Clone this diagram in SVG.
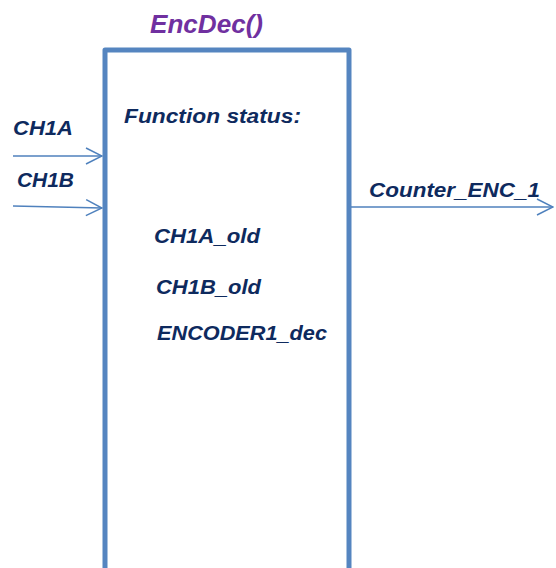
<svg xmlns="http://www.w3.org/2000/svg" width="556" height="568" viewBox="0 0 556 568">
<style>
.lbl{font-family:"Liberation Sans",Arial,sans-serif;font-weight:bold;font-style:italic;fill:#0E2A5E;font-size:21px}
.title{font-family:"Liberation Sans",Arial,sans-serif;font-weight:bold;font-style:italic;fill:#7030A0;font-size:25px}
.wire{stroke:#4F81BD;stroke-width:1.5;fill:none}
</style>
<defs>
<marker id="arr" viewBox="0 0 18 18" refX="17" refY="9" markerWidth="18" markerHeight="18" markerUnits="userSpaceOnUse" orient="auto">
<path d="M1,1 L17,9 L1,17" fill="none" stroke="#4F81BD" stroke-width="1.5"/>
</marker>
</defs>
<rect width="556" height="568" fill="#ffffff"/>
<g id="encdec">
<path d="M105,575 L105,50 L349,50 L349,575" fill="none" stroke="#5585C0" stroke-width="5" stroke-linejoin="round"/>
<text class="title" x="150" y="33" textLength="113" lengthAdjust="spacingAndGlyphs">EncDec()</text>
<text class="lbl" x="124" y="123" textLength="177" lengthAdjust="spacingAndGlyphs">Function status:</text>
<text class="lbl" x="154" y="243" textLength="106" lengthAdjust="spacingAndGlyphs">CH1A_old</text>
<text class="lbl" x="156" y="294" textLength="105" lengthAdjust="spacingAndGlyphs">CH1B_old</text>
<text class="lbl" x="157" y="340" textLength="170" lengthAdjust="spacingAndGlyphs">ENCODER1_dec</text>
</g>
<g id="connectors">
<line class="wire" x1="13" y1="156" x2="102" y2="156" marker-end="url(#arr)"/>
<line class="wire" x1="13" y1="206" x2="102" y2="208" marker-end="url(#arr)"/>
<line class="wire" x1="351" y1="207" x2="553" y2="207" marker-end="url(#arr)"/>
<text class="lbl" x="13" y="135" textLength="60" lengthAdjust="spacingAndGlyphs">CH1A</text>
<text class="lbl" x="17" y="187" textLength="57" lengthAdjust="spacingAndGlyphs">CH1B</text>
<text class="lbl" x="369" y="197" textLength="171" lengthAdjust="spacingAndGlyphs">Counter_ENC_1</text>
</g>
</svg>
